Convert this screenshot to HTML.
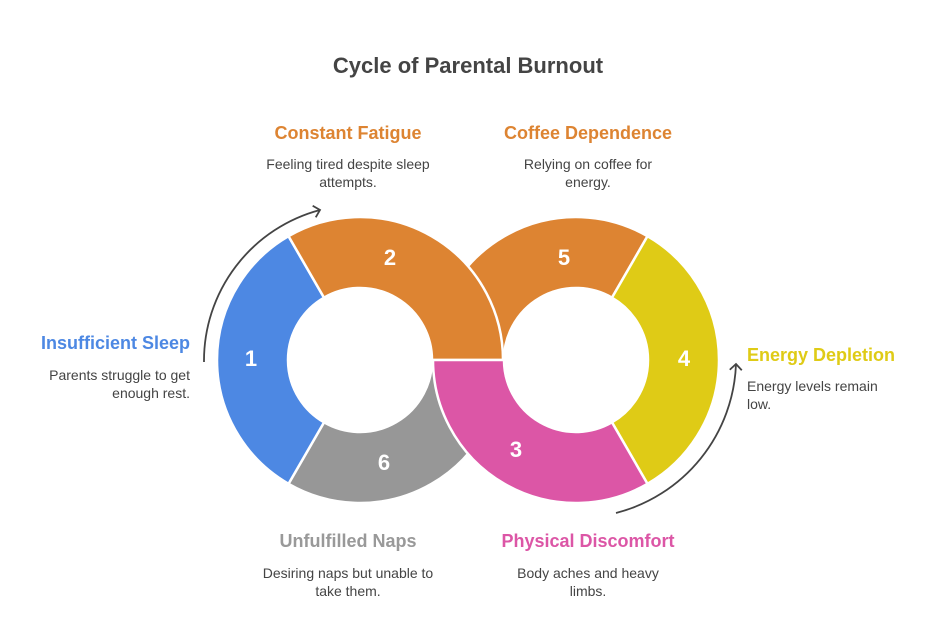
<!DOCTYPE html>
<html><head><meta charset="utf-8"><style>
body{margin:0;background:#fff;width:936px;height:621px;overflow:hidden;font-family:"Liberation Sans",sans-serif}
svg{position:absolute;left:0;top:0}
</style></head><body>
<svg id="s" width="936" height="621" viewBox="0 0 936 621" xmlns="http://www.w3.org/2000/svg" font-family="Liberation Sans, sans-serif">
<g id="rings"></g>
<defs><marker id="ah" markerWidth="14" markerHeight="14" refX="7" refY="7" orient="auto" markerUnits="userSpaceOnUse"><path d="M1,1 L7,7 L1,13" fill="none" stroke="#444" stroke-width="1.8"/></marker></defs>
<path d="M204,362 A156,156 0 0 1 320,210" fill="none" stroke="#444" stroke-width="1.8" marker-end="url(#ah)"/>
<path d="M616,513 A160,160 0 0 0 736,364" fill="none" stroke="#444" stroke-width="1.8" marker-end="url(#ah)"/>
<g font-weight="bold" font-size="22" fill="#fff" text-anchor="middle">
<text x="251" y="366">1</text><text x="390" y="265">2</text><text x="384" y="470">6</text>
<text x="564" y="265">5</text><text x="684" y="366">4</text><text x="516" y="457">3</text>
</g>
<text x="468" y="73" text-anchor="middle" font-size="22" font-weight="bold" fill="#444">Cycle of Parental Burnout</text>
<g font-size="18" font-weight="bold">
<text x="190" y="349" text-anchor="end" fill="#4d88e3">Insufficient Sleep</text>
<text x="348" y="139" text-anchor="middle" fill="#dd8432">Constant Fatigue</text>
<text x="588" y="139" text-anchor="middle" fill="#dd8432">Coffee Dependence</text>
<text x="747" y="361" fill="#dfcb16">Energy Depletion</text>
<text x="348" y="547" text-anchor="middle" fill="#999">Unfulfilled Naps</text>
<text x="588" y="547" text-anchor="middle" fill="#dc56a6">Physical Discomfort</text>
</g>
<g font-size="14" fill="#444">
<text x="190" y="380" text-anchor="end">Parents struggle to get</text>
<text x="190" y="398" text-anchor="end">enough rest.</text>
<text x="348" y="169" text-anchor="middle">Feeling tired despite sleep</text>
<text x="348" y="187" text-anchor="middle">attempts.</text>
<text x="588" y="169" text-anchor="middle">Relying on coffee for</text>
<text x="588" y="187" text-anchor="middle">energy.</text>
<text x="747" y="391">Energy levels remain</text>
<text x="747" y="409">low.</text>
<text x="348" y="578" text-anchor="middle">Desiring naps but unable to</text>
<text x="348" y="596" text-anchor="middle">take them.</text>
<text x="588" y="578" text-anchor="middle">Body aches and heavy</text>
<text x="588" y="596" text-anchor="middle">limbs.</text>
</g>
</svg>
<script>
function seg(cx,cy,R,r,a0,a1,col){
 const p=(rad,a)=>[cx+rad*Math.cos(a*Math.PI/180),cy-rad*Math.sin(a*Math.PI/180)];
 const [x0,y0]=p(R,a0),[x1,y1]=p(R,a1),[x2,y2]=p(r,a1),[x3,y3]=p(r,a0);
 const lg=(a1-a0)>180?1:0;
 return `<path d="M${x0},${y0} A${R},${R} 0 ${lg} 0 ${x1},${y1} L${x2},${y2} A${r},${r} 0 ${lg} 1 ${x3},${y3} Z" fill="${col}" stroke="#fff" stroke-width="2.5" stroke-linejoin="round"/>`;
}
const L=[360,360],Rr=[576,360],R=143,r=72;
let h='';
h+=seg(L[0],L[1],R,r,240,360,'#979797');
h+=seg(Rr[0],Rr[1],R,r,60,180,'#dd8432');
h+=seg(L[0],L[1],R,r,120,240,'#4d88e3');
h+=seg(Rr[0],Rr[1],R,r,-60,60,'#dfcb16');
h+=seg(L[0],L[1],R,r,0,120,'#dd8432');
h+=seg(Rr[0],Rr[1],R,r,180,300,'#dc56a6');
document.getElementById('rings').innerHTML=h;
</script>
</body></html>
